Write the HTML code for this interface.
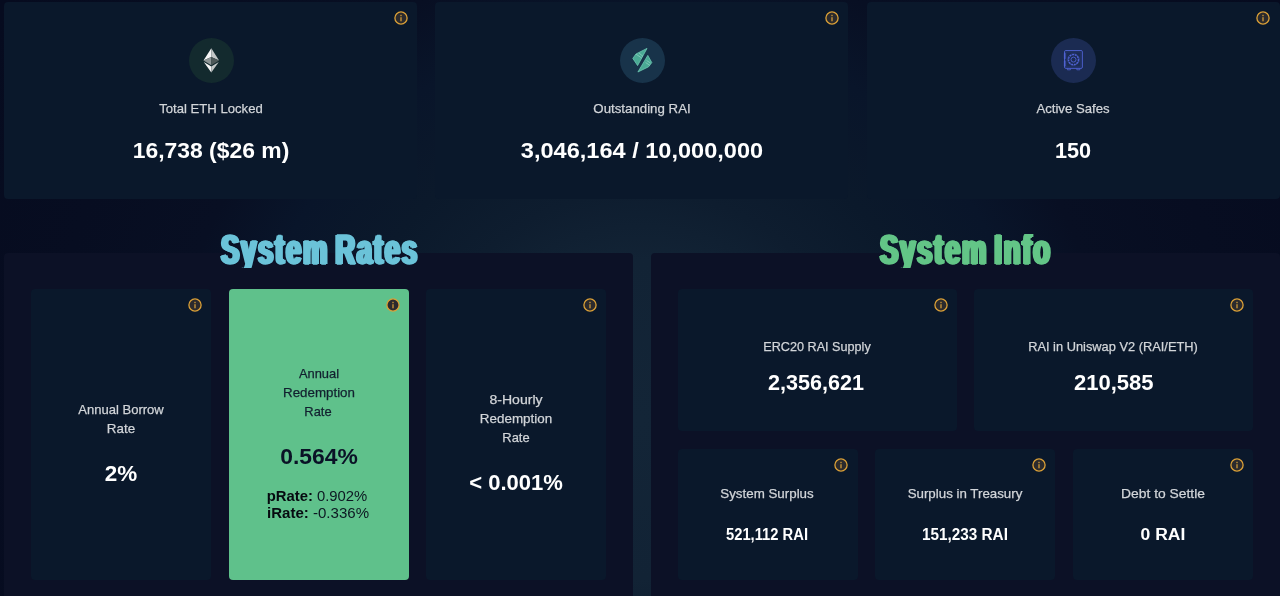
<!DOCTYPE html>
<html lang="en">
<head>
<meta charset="utf-8">
<title>RAI Stats</title>
<style>
*{box-sizing:border-box;margin:0;padding:0}
html,body{width:1280px;height:596px;overflow:hidden}
body{position:relative;font-family:"Liberation Sans",sans-serif;color:#fff;background:#060b1f}
#bg{position:absolute;left:0;top:0;width:1280px;height:596px;background:radial-gradient(circle 760px at 640px 420px,#132537 0%,#122335 21%,#0e1d2f 30%,#0b192b 40%,#09152a 52%,#080f23 62%,#070d21 78%,#060b1f 100%)}
.box{position:absolute;border-radius:4px}
.top{background:#0a182b}
.panel{background:#0c1126}
.card{background:#0a182b}
.green{background:#5fc18b;border-radius:4px}
.t{position:absolute;text-align:center;white-space:nowrap}
.lab{font-size:13.5px;line-height:19px;color:#d2d5d9;-webkit-text-stroke:0.25px #d2d5d9}
.val{font-weight:700;font-size:22.0px;line-height:26px;color:#fff}
.val2{font-weight:700;font-size:15.6px;line-height:22px;color:#fff}
.green .lab{color:#12202f;-webkit-text-stroke:0.25px #12202f}
.green .val{color:#0a1226}
.sub{font-size:14.4px;line-height:17px;color:#0d1822}
.sub b{font-weight:700;color:#060a10}
.w{position:absolute;top:234.4px;height:33.6px;overflow:hidden;padding:0 8px;font-weight:700;font-size:43px;line-height:30px;letter-spacing:3px;word-spacing:-5px;white-space:nowrap;transform-origin:0 0;transform:scaleX(0.632)}
.c1{color:#6bc3d9;-webkit-text-stroke:1.6px #6bc3d9;text-shadow:1.5px 0 0 #6bc3d9,-1.5px 0 0 #6bc3d9,3px 0 0 #6bc3d9,-3px 0 0 #6bc3d9}
.c2{color:#63c587;-webkit-text-stroke:1.6px #63c587;text-shadow:1.5px 0 0 #63c587,-1.5px 0 0 #63c587,3px 0 0 #63c587,-3px 0 0 #63c587}
.info{position:absolute;width:14px;height:14px}
.ic{position:absolute;width:45px;height:45px;border-radius:50%}
</style>
</head>
<body>
<div id="bg"></div>

<div class="box top" style="left:4.2px;top:2px;width:413.1px;height:197px">
  <div class="ic" style="left:184.4px;top:35.7px;background:#132a2e"><svg width="45" height="45" viewBox="0 0 45 45">
<polygon points="22.3,10.2 14.5,22.4 22.3,19" fill="#f6f6f6"/><polygon points="22.3,10.2 30.1,22.4 22.3,19" fill="#c3c7c7"/>
<polygon points="14.5,22.4 22.3,19 22.3,27.2" fill="#8c9494"/><polygon points="30.1,22.4 22.3,19 22.3,27.2" fill="#4e5959"/>
<polygon points="14.8,24.1 22.3,28.4 22.3,34.5" fill="#f6f6f6"/><polygon points="29.8,24.1 22.3,28.4 22.3,34.5" fill="#c3c7c7"/></svg></div>
  <div class="t lab" style="left:206.92px;top:97.05px;transform:translateX(-50%) scaleX(0.9708);">Total ETH Locked</div>
  <div class="t val" style="left:206.43px;top:136.05px;transform:translateX(-50%) scaleX(1.0405);">16,738 ($26 m)</div>
  <svg class="info" style="left:389.8px;top:9.2px" viewBox="0 0 14 14"><circle cx="7" cy="7" r="6.1" fill="#2b2a2d" stroke="#dba037" stroke-width="1.3"/><rect x="6.35" y="6.2" width="1.3" height="4.1" fill="#cf9a38"/><rect x="6.35" y="3.8" width="1.3" height="1.4" fill="#cf9a38"/></svg>
</div>
<div class="box top" style="left:435.4px;top:2px;width:413.1px;height:197px">
  <div class="ic" style="left:184.25px;top:35.7px;background:#18334a"><svg width="45" height="45" viewBox="0 0 45 45">
<polygon points="27,10.4 15.9,16 12.8,20.4 17.6,27.6" fill="#4aa994" stroke="#74d3bb" stroke-width="0.7" stroke-linejoin="round"/>
<polygon points="27.8,17.4 31.8,24.6 28.6,28.8 17.9,34" fill="#4aa994" stroke="#74d3bb" stroke-width="0.7" stroke-linejoin="round"/>
<path d="M16.2 16.3l5.4 3.6M19 15l4 3.4M26.6 22.5l4 2.6M25.6 24.5l4.2 2.8" stroke="#c9efe6" stroke-width="0.6" fill="none" opacity="0.7"/></svg></div>
  <div class="t lab" style="left:206.68px;top:97.05px;transform:translateX(-50%) scaleX(0.9825);">Outstanding RAI</div>
  <div class="t val" style="left:206.28px;top:136.05px;transform:translateX(-50%) scaleX(1.0705);">3,046,164 / 10,000,000</div>
  <svg class="info" style="left:389.4px;top:9.2px" viewBox="0 0 14 14"><circle cx="7" cy="7" r="6.1" fill="#2b2a2d" stroke="#dba037" stroke-width="1.3"/><rect x="6.35" y="6.2" width="1.3" height="4.1" fill="#cf9a38"/><rect x="6.35" y="3.8" width="1.3" height="1.4" fill="#cf9a38"/></svg>
</div>
<div class="box top" style="left:866.6px;top:2px;width:413.1px;height:197px">
  <div class="ic" style="left:184px;top:35.7px;background:#1b2b52"><svg width="45" height="45" viewBox="0 0 45 45" fill="none" stroke="#4f62d2" stroke-width="1">
<rect x="13.5" y="12.5" width="17.9" height="17.9" rx="1.4" stroke-width="0.9"/><rect x="14.9" y="13.9" width="15.1" height="15.1" rx="0.6" stroke-width="0.35" opacity="0.6"/>
<circle cx="22.5" cy="21.6" r="5" stroke-width="1.4" stroke-dasharray="1.9 0.8"/><circle cx="22.5" cy="21.6" r="5.8" stroke-width="0.4"/><circle cx="22.5" cy="21.6" r="2.5" stroke-width="0.9"/>
<path d="M16.4 30.5v1.3h3v-1.3M25.8 30.5v1.3h3v-1.3" stroke-width="0.8"/><path d="M13.7 15.4v5M13.7 23.1v4.8" stroke-width="1.6" stroke-linecap="round"/></svg></div>
  <div class="t lab" style="left:206.47px;top:97.05px;transform:translateX(-50%) scaleX(0.9747);">Active Safes</div>
  <div class="t val" style="left:206.21px;top:136.05px;transform:translateX(-50%) scaleX(0.9857);">150</div>
  <svg class="info" style="left:389.5px;top:9.2px" viewBox="0 0 14 14"><circle cx="7" cy="7" r="6.1" fill="#2b2a2d" stroke="#dba037" stroke-width="1.3"/><rect x="6.35" y="6.2" width="1.3" height="4.1" fill="#cf9a38"/><rect x="6.35" y="3.8" width="1.3" height="1.4" fill="#cf9a38"/></svg>
</div>
<div class="box panel" style="left:4.2px;top:253px;width:628.4px;height:360px">
</div>
<div class="box panel" style="left:651px;top:253px;width:628.7px;height:360px">
</div>
<div class="box card" style="left:31px;top:289px;width:180.4px;height:291px">
  <div class="t lab" style="left:89.69px;top:111.05px;transform:translateX(-50%) scaleX(0.9663);">Annual Borrow</div>
  <div class="t lab" style="left:89.67px;top:130.05px;transform:translateX(-50%) scaleX(0.9926);">Rate</div>
  <div class="t val" style="left:89.70px;top:172.05px;transform:translateX(-50%) scaleX(1.0200);">2%</div>
  <svg class="info" style="left:156.8px;top:9px" viewBox="0 0 14 14"><circle cx="7" cy="7" r="6.1" fill="#2b2a2d" stroke="#dba037" stroke-width="1.3"/><rect x="6.35" y="6.2" width="1.3" height="4.1" fill="#cf9a38"/><rect x="6.35" y="3.8" width="1.3" height="1.4" fill="#cf9a38"/></svg>
</div>
<div class="box green" style="left:228.8px;top:289px;width:180px;height:291px">
  <div class="t lab" style="left:90.40px;top:75.05px;transform:translateX(-50%) scaleX(0.9561);">Annual</div>
  <div class="t lab" style="left:89.95px;top:94.05px;transform:translateX(-50%) scaleX(0.9873);">Redemption</div>
  <div class="t lab" style="left:89.68px;top:113.05px;transform:translateX(-50%) scaleX(0.9556);">Rate</div>
  <div class="t val" style="left:89.96px;top:155.05px;transform:translateX(-50%) scaleX(1.0397);">0.564%</div>
  <div class="t sub" style="left:88.19px;top:199.05px;transform:translateX(-50%) scaleX(1.0312);"><b>pRate:</b> 0.902%</div>
  <div class="t sub" style="left:89.59px;top:216.05px;transform:translateX(-50%) scaleX(1.0458);"><b>iRate:</b> -0.336%</div>
  <svg class="info" style="left:156.8px;top:9px" viewBox="0 0 14 14"><circle cx="7" cy="7" r="6.1" fill="#2b2a2d" stroke="#dba037" stroke-width="1.3"/><rect x="6.35" y="6.2" width="1.3" height="4.1" fill="#cf9a38"/><rect x="6.35" y="3.8" width="1.3" height="1.4" fill="#cf9a38"/></svg>
</div>
<div class="box card" style="left:426.2px;top:289px;width:179.8px;height:291px">
  <div class="t lab" style="left:89.54px;top:101.05px;transform:translateX(-50%) scaleX(1.0420);">8-Hourly</div>
  <div class="t lab" style="left:89.85px;top:120.05px;transform:translateX(-50%) scaleX(0.9930);">Redemption</div>
  <div class="t lab" style="left:89.83px;top:139.05px;transform:translateX(-50%) scaleX(0.9593);">Rate</div>
  <div class="t val" style="left:90.24px;top:181.05px;transform:translateX(-50%) scaleX(1.0011);">&lt; 0.001%</div>
  <svg class="info" style="left:156.4px;top:9px" viewBox="0 0 14 14"><circle cx="7" cy="7" r="6.1" fill="#2b2a2d" stroke="#dba037" stroke-width="1.3"/><rect x="6.35" y="6.2" width="1.3" height="4.1" fill="#cf9a38"/><rect x="6.35" y="3.8" width="1.3" height="1.4" fill="#cf9a38"/></svg>
</div>
<div class="box card" style="left:677.6px;top:289px;width:279px;height:142px">
  <div class="t lab" style="left:139.09px;top:48.05px;transform:translateX(-50%) scaleX(0.9360);">ERC20 RAI Supply</div>
  <div class="t val" style="left:138.75px;top:81.05px;transform:translateX(-50%) scaleX(0.9814);">2,356,621</div>
  <svg class="info" style="left:256.0px;top:9px" viewBox="0 0 14 14"><circle cx="7" cy="7" r="6.1" fill="#2b2a2d" stroke="#dba037" stroke-width="1.3"/><rect x="6.35" y="6.2" width="1.3" height="4.1" fill="#cf9a38"/><rect x="6.35" y="3.8" width="1.3" height="1.4" fill="#cf9a38"/></svg>
</div>
<div class="box card" style="left:974.2px;top:289px;width:279px;height:142px">
  <div class="t lab" style="left:139.28px;top:48.05px;transform:translateX(-50%) scaleX(0.9503);">RAI in Uniswap V2 (RAI/ETH)</div>
  <div class="t val" style="left:139.57px;top:81.05px;transform:translateX(-50%) scaleX(1.0000);">210,585</div>
  <svg class="info" style="left:255.6px;top:9px" viewBox="0 0 14 14"><circle cx="7" cy="7" r="6.1" fill="#2b2a2d" stroke="#dba037" stroke-width="1.3"/><rect x="6.35" y="6.2" width="1.3" height="4.1" fill="#cf9a38"/><rect x="6.35" y="3.8" width="1.3" height="1.4" fill="#cf9a38"/></svg>
</div>
<div class="box card" style="left:677.5px;top:448.6px;width:180px;height:131.4px">
  <div class="t lab" style="left:89.83px;top:35.45px;transform:translateX(-50%) scaleX(0.9882);">System Surplus</div>
  <div class="t val2" style="left:89.76px;top:75.45px;transform:translateX(-50%) scaleX(0.9459);">521,112 RAI</div>
  <svg class="info" style="left:156.5px;top:9.0px" viewBox="0 0 14 14"><circle cx="7" cy="7" r="6.1" fill="#2b2a2d" stroke="#dba037" stroke-width="1.3"/><rect x="6.35" y="6.2" width="1.3" height="4.1" fill="#cf9a38"/><rect x="6.35" y="3.8" width="1.3" height="1.4" fill="#cf9a38"/></svg>
</div>
<div class="box card" style="left:875.3px;top:448.6px;width:180px;height:131.4px">
  <div class="t lab" style="left:89.66px;top:35.45px;transform:translateX(-50%) scaleX(0.9861);">Surplus in Treasury</div>
  <div class="t val2" style="left:89.84px;top:75.45px;transform:translateX(-50%) scaleX(0.9802);">151,233 RAI</div>
  <svg class="info" style="left:156.5px;top:9.0px" viewBox="0 0 14 14"><circle cx="7" cy="7" r="6.1" fill="#2b2a2d" stroke="#dba037" stroke-width="1.3"/><rect x="6.35" y="6.2" width="1.3" height="4.1" fill="#cf9a38"/><rect x="6.35" y="3.8" width="1.3" height="1.4" fill="#cf9a38"/></svg>
</div>
<div class="box card" style="left:1073.1px;top:448.6px;width:180px;height:131.4px">
  <div class="t lab" style="left:89.80px;top:35.45px;transform:translateX(-50%) scaleX(1.0250);">Debt to Settle</div>
  <div class="t val2" style="left:89.78px;top:75.45px;transform:translateX(-50%) scaleX(1.1237);">0 RAI</div>
  <svg class="info" style="left:156.5px;top:9.0px" viewBox="0 0 14 14"><circle cx="7" cy="7" r="6.1" fill="#2b2a2d" stroke="#dba037" stroke-width="1.3"/><rect x="6.35" y="6.2" width="1.3" height="4.1" fill="#cf9a38"/><rect x="6.35" y="3.8" width="1.3" height="1.4" fill="#cf9a38"/></svg>
</div>
<h2 class="w c1" style="left:215.6px">System Rates</h2>
<h2 class="w c2" style="left:875.4px">System Info</h2>
</body>
</html>
